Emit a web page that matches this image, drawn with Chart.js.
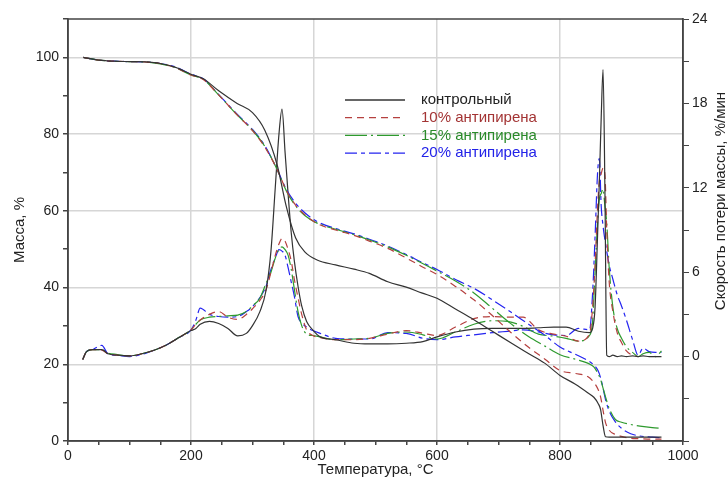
<!DOCTYPE html>
<html>
<head>
<meta charset="utf-8">
<script src="https://cdn.jsdelivr.net/npm/chart.js@4"></script>
<style>
  html, body { margin: 0; padding: 0; background: #fff; }
  #wrap { width: 728px; height: 479px; }
</style>
</head>
<body>
<div id="wrap"><canvas id="chart"></canvas></div>
<script>
// legend names
const seriesNames = ['контрольный', '10% антипирена', '15% антипирена', '20% антипирена'];

// mass curves (left axis), shared temperature grid, °C
const massTemps = [25, 50, 75, 100, 125, 150, 175, 200,
  220, 245, 275, 300, 320, 340, 355, 370, 385, 405,
  435, 465, 490, 520, 550, 575, 600, 630, 660, 690,
  720, 750, 775, 800, 825, 845, 855, 862, 866, 870,
  874, 880, 890, 900, 915, 930, 950, 965];

const massCtrl = [100, 99.3, 99.0, 98.9, 98.8, 98.4, 97.4, 95.6,
  94.4, 91.3, 88.0, 85.6, 81.0, 72.0, 61.1, 53.0, 49.3, 47.2,
  45.9, 44.8, 43.7, 41.5, 40.1, 38.6, 37.2, 34.4, 31.6, 28.6,
  25.6, 22.7, 20.3, 17.1, 14.8, 12.6, 11.4, 9.8, 8.2, 4.0,
  1.1, 1.0, 1.0, 1.0, 1.0, 1.0, 1.0, 1.0];

const mass10 = [100, 99.3, 99.0, 98.9, 98.8, 98.4, 97.3, 95.4,
  94.2, 90.2, 85.0, 80.9, 76.6, 70.8, 65.3, 61.5, 59.0, 56.7,
  55.0, 53.6, 52.1, 50.2, 47.7, 45.5, 43.4, 40.3, 36.8, 32.7,
  28.3, 24.3, 21.4, 18.4, 17.6, 16.8, 15.3, 13.4, 11.5, 8.0,
  4.8, 2.8, 1.7, 1.2, 0.7, 0.6, 0.5, 0.5];

const mass15 = [100, 99.3, 99.0, 98.9, 98.8, 98.3, 97.3, 95.4,
  94.3, 90.2, 85.0, 81.0, 76.8, 70.8, 65.2, 61.3, 58.8, 56.8,
  55.2, 53.8, 52.4, 50.6, 48.4, 46.4, 44.3, 41.7, 38.6, 34.6,
  30.6, 27.1, 24.8, 22.5, 21.3, 20.3, 19.3, 17.5, 16.0, 13.8,
  11.5, 8.5, 5.6, 4.9, 4.3, 3.9, 3.5, 3.3];

const mass20 = [100, 99.3, 99.0, 98.9, 98.8, 98.4, 97.5, 95.6,
  94.4, 90.3, 85.2, 81.2, 77.0, 70.8, 65.6, 62.0, 59.5, 57.2,
  55.4, 54.0, 52.6, 50.8, 48.6, 46.6, 44.7, 42.1, 39.8, 36.8,
  33.6, 30.3, 27.6, 24.5, 22.6, 21.0, 19.8, 18.3, 16.5, 13.8,
  10.8, 7.8, 5.0, 3.3, 1.9, 1.3, 1.0, 0.8];

// mass loss rate curves (right axis), %/мин
const rateTemps = [24, 30, 40, 55, 65, 80, 100, 120, 140, 160,
  180, 200, 208, 215, 230, 245, 260, 276, 290, 300,
  312, 322, 330, 337, 343, 348, 353, 358, 363, 368,
  374, 380, 388, 398, 410, 435, 465, 490, 520, 550,
  577, 600, 630, 660, 690, 715, 740, 765, 790, 810,
  830, 848, 853, 857, 861, 864, 867, 870, 873, 876,
  880, 886, 893, 900, 908, 918, 927, 935, 945, 955,
  965];

const rateCtrl = [-0.2, 0.35, 0.5, 0.5, 0.2, 0.1, 0.05, 0.2, 0.45, 0.83,
  1.35, 1.85, 2.0, 2.3, 2.5, 2.35, 2.0, 1.47, 1.65, 2.2,
  3.2, 4.7, 7.5, 12.0, 15.8, 17.6, 14.5, 11.5, 8.8, 6.8,
  5.0, 3.6, 2.5, 1.9, 1.4, 1.2, 0.95, 0.9, 0.9, 0.95,
  1.07, 1.4, 1.75, 1.95, 2.0, 2.0, 2.0, 2.05, 2.1, 2.1,
  1.8, 1.7, 2.0, 3.5, 8.5, 12.5, 17.0, 20.4, 12.0, 0.1,
  0.0, 0.1, 0.0, 0.05, 0.0, 0.05, 0.0, 0.05, 0.0, 0.0,
  0.0];

const rate10 = [-0.2, 0.35, 0.5, 0.45, 0.2, 0.1, 0.05, 0.2, 0.45, 0.83,
  1.35, 1.9, 2.3, 2.6, 3.0, 3.2, 2.8, 2.65, 3.0, 3.4,
  4.0, 4.75, 6.0, 7.2, 8.0, 8.4, 8.2, 7.6, 6.8, 5.5,
  4.2, 3.0, 1.9, 1.5, 1.35, 1.2, 1.2, 1.3, 1.6, 1.85,
  1.66, 1.5, 2.1, 2.7, 2.85, 2.8, 2.8, 1.9, 1.6, 1.45,
  1.1, 1.6, 3.5, 6.5, 10.5, 12.5, 13.0, 13.4, 13.0, 9.0,
  5.3, 3.2, 1.7, 1.0, 0.4, 0.1, 0.0, null, null, null,
  null];

const rate15 = [-0.2, 0.35, 0.5, 0.5, 0.25, 0.15, 0.05, 0.2, 0.45, 0.83,
  1.35, 1.9, 2.3, 2.6, 2.8, 2.85, 2.9, 2.95, 3.2, 3.6,
  4.15, 5.2, 6.0, 7.0, 7.6, 7.8, 7.6, 7.2, 6.2, 4.8,
  3.2, 2.2, 1.6, 1.5, 1.4, 1.2, 1.25, 1.3, 1.65, 1.75,
  1.55, 1.25, 1.75, 2.3, 2.55, 2.5, 2.15, 1.6, 1.45, 1.3,
  1.1, 1.5, 2.5, 6.0, 9.5, 11.2, 11.6, 11.9, 10.7, 9.5,
  6.3, 3.5, 2.0, 1.3, 0.7, 0.3, 0.0, 0.2, 0.3, 0.0,
  0.4];

const rate20 = [-0.2, 0.35, 0.5, 0.8, 0.2, 0.1, 0.0, 0.15, 0.45, 0.83,
  1.35, 1.9, 2.6, 3.45, 3.0, 2.85, 2.8, 2.85, 3.2, 3.55,
  4.2, 5.0, 6.2, 7.0, 7.6, 7.5, 7.2, 6.3, 5.3, 4.3,
  2.85, 2.4, 2.1, 1.85, 1.65, 1.3, 1.25, 1.25, 1.7, 1.65,
  1.3, 1.2, 1.4, 1.55, 1.7, 1.8, 1.9, 1.75, 1.55, 1.5,
  2.0, 1.9, 4.5, 8.5, 13.0, 14.1, 10.7, 9.3, 8.3, 7.5,
  6.5, 5.5, 4.4, 3.6, 2.6, 1.2, 0.1, 0.6, 0.35, 0.3,
  0.3];

const xTitle = 'Температура, °C';
const yTitle = 'Масса, %';
const y1Title = 'Скорость потери массы, %/мин';

const lineColors = ['#333333', '#b5403f', '#2e9a2e', '#2424f0'];
const textColors = ['#222222', '#a33434', '#2a8a2a', '#2222e8'];
const dashes = [[], [7, 5], [22, 4, 2, 4], [12, 4, 4, 4]];
const FONT = '"Liberation Sans", Arial, sans-serif';

function pts(xs, ys) {
  return xs.map((x, i) => ({ x: x, y: ys[i] }));
}

const massSeries = [massCtrl, mass10, mass15, mass20];
const rateSeries = [rateCtrl, rate10, rate15, rate20];

const datasets = [];
massSeries.forEach((s, i) => datasets.push({
  label: seriesNames[i], data: pts(massTemps, s), yAxisID: 'y',
  borderColor: lineColors[i], borderDash: dashes[i]
}));
rateSeries.forEach((s, i) => datasets.push({
  label: seriesNames[i], data: pts(rateTemps, s), yAxisID: 'y1',
  borderColor: lineColors[i], borderDash: dashes[i]
}));
datasets.forEach(d => Object.assign(d, {
  borderWidth: 1.2, pointRadius: 0, fill: false, cubicInterpolationMode: 'monotone'
}));

// frame, legend inside the plot and the right-hand axis title
const overlay = {
  id: 'overlay',
  afterDatasetsDraw(chart) {
    const { ctx, chartArea: a } = chart;
    ctx.save();
    ctx.strokeStyle = '#444';
    ctx.lineWidth = 1.5;
    ctx.strokeRect(a.left, a.top, a.right - a.left, a.bottom - a.top);

    ctx.font = '15px ' + FONT;
    ctx.textBaseline = 'middle';
    for (let i = 0; i < 4; i++) {
      const ds = chart.data.datasets[i];
      const y = 100 + i * 17.7;
      ctx.strokeStyle = ds.borderColor;
      ctx.lineWidth = 1.3;
      ctx.setLineDash(ds.borderDash);
      ctx.beginPath();
      ctx.moveTo(345, y);
      ctx.lineTo(405, y);
      ctx.stroke();
      ctx.setLineDash([]);
      ctx.fillStyle = textColors[i];
      ctx.fillText(ds.label, 421, y);
    }

    ctx.translate(721, 201);
    ctx.rotate(-Math.PI / 2);
    ctx.textAlign = 'center';
    ctx.fillStyle = '#222';
    ctx.fillText(y1Title, 0, 0);
    ctx.restore();
  }
};

const gridColor = (step, lo, hi) => c =>
  (c.tick && c.tick.value % step === 0 && c.tick.value > lo && c.tick.value < hi) ? '#d6d6d6' : 'rgba(0,0,0,0)';

new Chart(document.getElementById('chart'), {
  type: 'line',
  data: { datasets: datasets },
  plugins: [overlay],
  options: {
    responsive: true,
    maintainAspectRatio: false,
    animation: false,
    layout: { padding: { top: 19, left: 0, right: 0, bottom: 0 } },
    plugins: { legend: { display: false }, tooltip: { enabled: false } },
    scales: {
      x: {
        type: 'linear', min: 0, max: 1000,
        afterFit: s => { s.height = 38; },
        border: { color: '#444', width: 1.5 },
        grid: { color: gridColor(200, 0, 1000), lineWidth: 1.5, tickColor: '#444', tickLength: 4 },
        ticks: {
          stepSize: 50, autoSkip: false, maxRotation: 0, padding: 3,
          color: '#222', font: { family: FONT, size: 14 },
          callback: v => (v % 200 === 0 ? v : '')
        },
        title: { display: true, text: xTitle, color: '#222', font: { family: FONT, size: 15 }, padding: { top: 0, bottom: 0 } }
      },
      y: {
        position: 'left', min: 0, max: 110,
        afterFit: s => { s.width = 68; },
        border: { color: '#444', width: 1.5 },
        grid: { color: gridColor(20, 0, 110), lineWidth: 1.5, tickColor: '#444', tickLength: 5 },
        ticks: {
          stepSize: 10, autoSkip: false, padding: 4,
          color: '#222', font: { family: FONT, size: 14 },
          callback: v => (v % 20 === 0 ? v : '')
        },
        title: { display: true, text: yTitle, color: '#222', font: { family: FONT, size: 15 }, padding: { top: 11, bottom: 0 } }
      },
      y1: {
        position: 'right', min: -6, max: 24,
        afterFit: s => { s.width = 45; },
        border: { color: '#444', width: 1.5 },
        grid: { drawOnChartArea: false, tickColor: '#444', tickLength: 6 },
        ticks: {
          stepSize: 3, autoSkip: false, padding: 3,
          color: '#222', font: { family: FONT, size: 14 },
          callback: v => (v % 6 === 0 && v >= 0 ? v : '')
        }
      }
    }
  }
});
</script>
</body>
</html>
